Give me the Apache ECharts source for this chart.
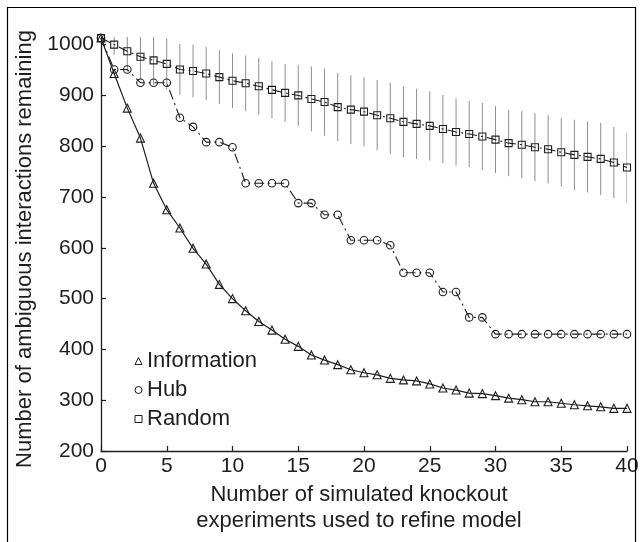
<!DOCTYPE html>
<html>
<head>
<meta charset="utf-8">
<script src="https://cdn.jsdelivr.net/npm/echarts@6/dist/echarts.min.js"></script>
<style>
html,body{margin:0;padding:0;background:#fff;}
#chart{width:642px;height:542px;}
</style>
</head>
<body>
<div id="chart"></div>
<script>
// Number of simulated knockout experiments
const experiments = [0,1,2,3,4,5,6,7,8,9,10,11,12,13,14,15,16,17,18,19,20,21,22,23,24,25,26,27,28,29,30,31,32,33,34,35,36,37,38,39,40];
const informationVals = [1013,943,875,816,727,675,639,599,568,528,500,476,455,438,420,406,389,379,370,360,354,350,343,340,338,332,324,320,314,313,309,304,301,297,297,294,291,289,287,284,284];
const hubVals = [1013,951,951,925,925,925,856,838,808,808,798,727,727,727,727,688,688,665,665,615,615,615,605,551,551,551,513,513,463,463,430,430,430,430,430,430,430,430,430,430,430];
const randomVals = [1013,1000,987,976,969,962,951,948,943,936,929,924,918,911,905,900,893,887,877,872,868,861,855,848,844,840,834,828,824,819,813,806,803,798,794,788,783,779,775,768,758];
const randomErr = [0,20,40,45,48,50,50,52,52,53,54,55,56,56,57,60,64,66,67,68,68,69,70,70,69,68,67,66,65,66,66,65,66,67,67,67,69,70,71,70,69];
const yTicks = [200,300,400,500,600,700,800,900,1000];
const xTicks = [0,5,10,15,20,25,30,35,40];
const seriesNames = ['Information','Hub','Random'];

const ink = '#1e1e1e';
const font = '"Liberation Sans", Arial, Helvetica, sans-serif';

const pairs = arr => experiments.map((x,i)=>[x, arr[i]]);
const errData = experiments.map((x,i)=>[x, randomVals[i]-randomErr[i], randomVals[i]+randomErr[i]]);

const hollow = {color:'rgba(0,0,0,0)', borderColor: ink, borderWidth: 1.1};

const chart = echarts.init(document.getElementById('chart'), null, {renderer:'canvas'});
chart.setOption({
  backgroundColor:'#fff',
  animation:false,
  textStyle:{fontFamily:font, color:ink},
  graphic:[{type:'rect', shape:{x:7.5,y:7.5,width:628,height:545}, style:{fill:'none', stroke:'#000', lineWidth:1.2}, z:100}],
  grid:{left:101, right:15, top:37, bottom:91},
  xAxis:{
    type:'value', min:0, max:40, interval:5,
    axisLine:{show:true, lineStyle:{color:ink, width:1.3}},
    axisTick:{show:true, inside:true, length:5, lineStyle:{color:ink, width:1.2}, customValues: xTicks},
    axisLabel:{fontSize:21, color:ink, fontFamily:font, margin:5, customValues: xTicks, formatter: v => String(v)},
    splitLine:{show:false},
    name:'Number of simulated knockout\nexperiments used to refine model',
    nameLocation:'middle', nameGap:28,
    nameTextStyle:{fontSize:22, color:ink, fontFamily:font, lineHeight:26, padding:[0,10,0,0]}
  },
  yAxis:{
    type:'value', min:200, max:1015,
    axisLine:{show:true, lineStyle:{color:ink, width:1.3}},
    axisTick:{show:true, inside:true, length:5, lineStyle:{color:ink, width:1.2}, customValues: yTicks},
    axisLabel:{fontSize:21, color:ink, fontFamily:font, margin:7, customValues: yTicks, formatter: v => String(v)},
    splitLine:{show:false},
    name:'Number of ambiguous interactions remaining',
    nameLocation:'middle', nameGap:52,
    nameTextStyle:{fontSize:22, color:ink, fontFamily:font, padding:[0,10,0,0]}
  },
  legend:{
    left:129.5, top:345, orient:'vertical', itemGap:7, itemWidth:7, itemHeight:7,
    textStyle:{fontSize:22, color:ink, fontFamily:font, lineHeight:22},
    itemStyle:{color:'rgba(0,0,0,0)', borderColor:ink, borderWidth:1},
    data:[
      {name:seriesNames[0], icon:'triangle'},
      {name:seriesNames[1], icon:'circle'},
      {name:seriesNames[2], icon:'rect'}
    ]
  },
  series:[
    {
      type:'custom', name:'err', clip:true, silent:true, z:1,
      data: errData,
      renderItem:function(params, api){
        const p1 = api.coord([api.value(0), api.value(1)]);
        const p2 = api.coord([api.value(0), api.value(2)]);
        return {type:'line', shape:{x1:p1[0], y1:p1[1], x2:p2[0], y2:p2[1]}, style:{stroke:'#8e8e8e', lineWidth:1}};
      }
    },
    {
      type:'line', name:seriesNames[2], data:pairs(randomVals), z:3,
      symbol:'rect', symbolSize:7, showAllSymbol:true,
      itemStyle:hollow,
      lineStyle:{color:ink, width:1.1, type:[10,4,2,4]}
    },
    {
      type:'line', name:seriesNames[1], data:pairs(hubVals), z:3,
      symbol:'circle', symbolSize:7.5, showAllSymbol:true,
      itemStyle:hollow,
      lineStyle:{color:ink, width:1.1, type:[10,4,2,4]}
    },
    {
      type:'line', name:seriesNames[0], data:pairs(informationVals), z:4,
      symbol:'triangle', symbolSize:8, showAllSymbol:true,
      itemStyle:hollow,
      lineStyle:{color:ink, width:1.2}
    }
  ]
});
</script>
</body>
</html>
